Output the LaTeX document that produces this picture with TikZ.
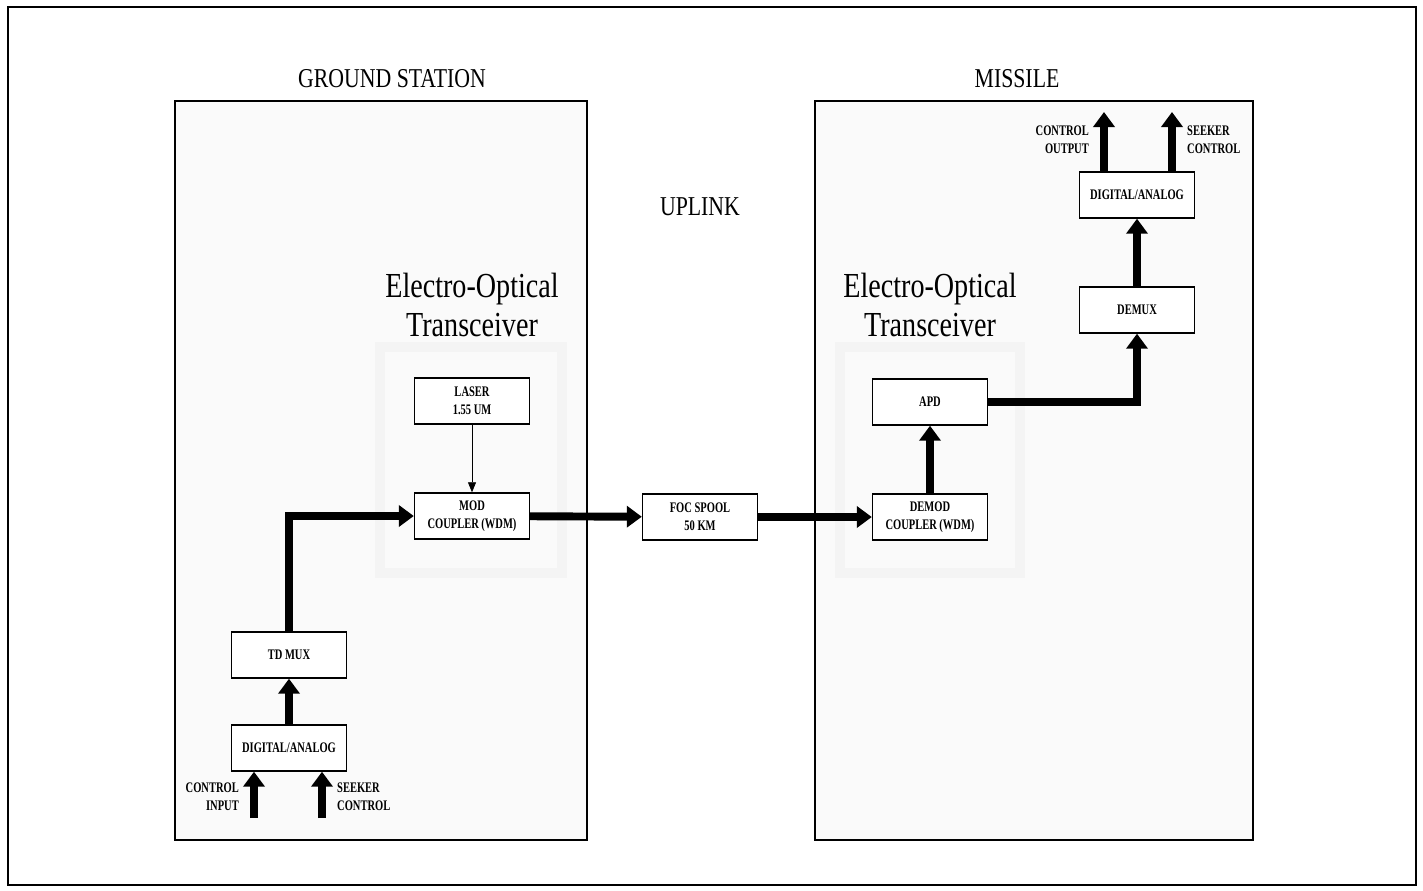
\documentclass[tikz,border=0pt]{standalone}
\usepackage{fontspec}
\setmainfont{Liberation Serif}
\newfontfamily\condfont[FakeStretch=0.72]{Liberation Serif}
\newfontfamily\titlefont[FakeStretch=0.8]{Liberation Serif}
\usetikzlibrary{arrows.meta,positioning}

\begin{document}
\begin{tikzpicture}[
          blk/.style={draw, thick, fill=white, minimum width=2.3cm, minimum height=0.92cm,
                      align=center, font=\condfont\bfseries\fontsize{8.3}{10}\selectfont},
          lbl/.style={align=center, font=\condfont\bfseries\fontsize{8.3}{10}\selectfont},
          heading/.style={font=\titlefont\fontsize{15.5}{17}\selectfont},
          eotitle/.style={align=center, font=\titlefont\fontsize{20}{22}\selectfont},
          site/.style={draw, thick, fill=gray!4},
          eoframe/.style={draw=gray!9, line width=6pt},
          bigarrow/.style={line width=4.5pt, -{Triangle[length=0.3cm,width=0.42cm]}},
          thinarrow/.style={thin, -{Triangle[length=0.2cm,width=0.16cm]}}
      ]
        \useasboundingbox (0,0) rectangle (28.46,-17.8);
        \draw[thick] (0.16,-0.14) rectangle (28.32,-17.7);
        % sites
        \draw[site] (3.5,-2.02) rectangle (11.74,-16.8);
        \draw[site] (16.3,-2.02) rectangle (25.06,-16.8);
        \draw[eoframe] (7.6,-6.94) rectangle (11.24,-11.46);
        \draw[eoframe] (16.8,-6.94) rectangle (20.4,-11.46);
        \node[heading] (gs) at (7.84,-1.58) {GROUND STATION};
        \node[heading] (ms) at (20.34,-1.58) {MISSILE};
        \node[heading] (up) at (14.0,-4.14) {UPLINK};
        \node[eotitle] (eo1) at (9.44,-6.1) {Electro-Optical\\Transceiver};
        \node[eotitle] (eo2) at (18.6,-6.1) {Electro-Optical\\Transceiver};
        % ground station
        \node[blk] (laser) at (9.44,-8.02) {LASER\\1.55 UM};
        \node[blk] (mod)   at (9.44,-10.32) {MOD\\COUPLER (WDM)};
        \node[blk] (tdmux) at (5.78,-13.1) {TD MUX};
        \node[blk] (da1)   at (5.78,-14.96) {DIGITAL/ANALOG};
        % link
        \node[blk] (foc)   at (14.0,-10.34) {FOC SPOOL\\50 KM};
        % missile
        \node[blk] (demod) at (18.6,-10.34) {DEMOD\\COUPLER (WDM)};
        \node[blk] (apd)   at (18.6,-8.04) {APD};
        \node[blk] (demux) at (22.74,-6.2) {DEMUX};
        \node[blk] (da2)   at (22.74,-3.9) {DIGITAL/ANALOG};
        % inputs and outputs
        \coordinate (in1) at (5.08,-16.36);
        \coordinate (in2) at (6.44,-16.36);
        \coordinate (out1) at (22.08,-2.24);
        \coordinate (out2) at (23.44,-2.24);
        \node[lbl, align=right, anchor=east] (ctlin) at (4.9,-15.94) {CONTROL\\INPUT};
        \node[lbl, align=left, anchor=west] (skin) at (6.62,-15.94) {SEEKER\\CONTROL};
        \node[lbl, align=right, anchor=east] (ctlout) at (21.9,-2.8) {CONTROL\\OUTPUT};
        \node[lbl, align=left, anchor=west] (skout) at (23.62,-2.8) {SEEKER\\CONTROL};
        % connectors
        \draw[bigarrow] (in1) -- (in1 |- da1.south);
        \draw[bigarrow] (in2) -- (in2 |- da1.south);
        \draw[bigarrow] (da1) -- (tdmux);
        \draw[bigarrow] (tdmux.north) |- (mod.west);
        \draw[thinarrow] (laser) -- (mod);
        \draw[bigarrow] (mod) -- (foc);
        \draw[bigarrow] (foc) -- (demod);
        \draw[bigarrow] (demod) -- (apd);
        \draw[bigarrow] (apd.east) -| (demux.south);
        \draw[bigarrow] (demux) -- (da2);
        \draw[bigarrow] (out1 |- da2.north) -- (out1);
        \draw[bigarrow] (out2 |- da2.north) -- (out2);
      \end{tikzpicture}
\end{document}
